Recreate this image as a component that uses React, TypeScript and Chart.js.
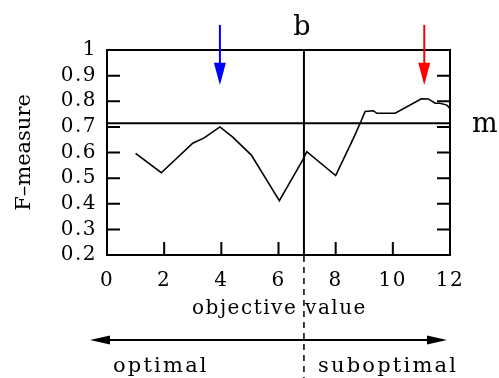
import React, { useEffect, useRef } from "react";
import { Chart, registerables } from "chart.js";

Chart.register(...registerables);

// F-measure curve (objective value, F-measure)
const curveX = [1, 1.9, 3.0, 3.4, 3.95, 4.4, 5.05, 6.03, 6.85, 6.99, 8.0, 8.62, 8.88, 9.03, 9.32, 9.44, 10.08, 11.0, 11.24, 11.48, 11.65, 11.89, 12.0];
const curveY = [0.597, 0.521, 0.636, 0.657, 0.7, 0.66, 0.59, 0.412, 0.571, 0.603, 0.51, 0.655, 0.72, 0.76, 0.763, 0.753, 0.753, 0.81, 0.809, 0.792, 0.792, 0.785, 0.772];

const xTicks = [0, 2, 4, 6, 8, 10, 12];
const yTicks = [0.2, 0.3, 0.4, 0.5, 0.6, 0.7, 0.8, 0.9, 1];

const bValue = 6.89; // vertical reference line "b"
const mValue = 0.714; // horizontal reference line "m"

const arrowXs = [3.95, 11.1];
const arrowColors = ["#0000ff", "#ff0000"];

const FONT = "'DejaVu Serif', 'Liberation Serif', serif";

export default function App() {
  const ref = useRef<HTMLCanvasElement>(null);

  useEffect(() => {
    if (!ref.current) return;
    const points = curveX.map((x, i) => ({ x, y: curveY[i] }));

    const overlay = {
      id: "overlay",
      beforeUpdate(chart: any) {
        (chart.ctx as any).letterSpacing = "1.5px";
      },
      beforeDraw(chart: any) {
        (chart.ctx as any).letterSpacing = "1.5px";
      },
      afterDraw(chart: any) {
        const ctx = chart.ctx as CanvasRenderingContext2D;
        const xs = chart.scales.x;
        const ys = chart.scales.y;
        const { left, right, top, bottom } = chart.chartArea;
        ctx.save();
        ctx.strokeStyle = "#000";
        ctx.fillStyle = "#000";
        // frame
        ctx.lineWidth = 2;
        ctx.strokeRect(left, top, right - left, bottom - top);
        // inward ticks
        ctx.lineWidth = 2;
        ctx.beginPath();
        yTicks.forEach((v) => {
          if (v <= 0.2 || v >= 1) return;
          const py = ys.getPixelForValue(v);
          ctx.moveTo(left, py);
          ctx.lineTo(left + 13, py);
          ctx.moveTo(right, py);
          ctx.lineTo(right - 13, py);
        });
        xTicks.forEach((v) => {
          if (v <= 0 || v >= 12) return;
          const px = xs.getPixelForValue(v);
          ctx.moveTo(px, bottom);
          ctx.lineTo(px, bottom - 13);
        });
        ctx.stroke();

        // dashed extension of b line
        const bx = xs.getPixelForValue(bValue);
        ctx.lineWidth = 1.5;
        ctx.setLineDash([6, 5]);
        ctx.beginPath();
        ctx.moveTo(bx, bottom + 1);
        ctx.lineTo(bx, chart.height);
        ctx.stroke();
        ctx.setLineDash([]);

        // coloured arrows
        arrowXs.forEach((v, i) => {
          const px = xs.getPixelForValue(v);
          const y0 = ys.getPixelForValue(1.098);
          const yb = ys.getPixelForValue(0.95);
          const yt = ys.getPixelForValue(0.863);
          ctx.strokeStyle = arrowColors[i];
          ctx.fillStyle = arrowColors[i];
          ctx.lineWidth = 2;
          ctx.beginPath();
          ctx.moveTo(px, y0);
          ctx.lineTo(px, yt - 4);
          ctx.stroke();
          ctx.beginPath();
          ctx.moveTo(px - 6, yb);
          ctx.lineTo(px + 6, yb);
          ctx.lineTo(px, yt);
          ctx.closePath();
          ctx.fill();
        });

        // bottom double arrow
        ctx.strokeStyle = "#000";
        ctx.fillStyle = "#000";
        const ay = 340;
        const ax0 = left - 17;
        const ax1 = right - 3;
        ctx.lineWidth = 2;
        ctx.beginPath();
        ctx.moveTo(ax0 + 10, ay);
        ctx.lineTo(ax1 - 10, ay);
        ctx.stroke();
        ctx.beginPath();
        ctx.moveTo(ax0, ay);
        ctx.lineTo(ax0 + 20, ay - 4.5);
        ctx.lineTo(ax0 + 20, ay + 4.5);
        ctx.closePath();
        ctx.fill();
        ctx.beginPath();
        ctx.moveTo(ax1, ay);
        ctx.lineTo(ax1 - 20, ay - 4.5);
        ctx.lineTo(ax1 - 20, ay + 4.5);
        ctx.closePath();
        ctx.fill();

        // texts
        ctx.textBaseline = "alphabetic";
        ctx.font = `20px ${FONT}`;
        (ctx as any).letterSpacing = "1.5px";
        ctx.textAlign = "center";
        ctx.fillText("objective value", (left + right) / 2 + 1, 314);
        ctx.font = `21px ${FONT}`;
        (ctx as any).letterSpacing = "2.2px";
        ctx.textAlign = "left";
        ctx.fillText("optimal", 113, 372);
        ctx.fillText("suboptimal", 318, 372);

        (ctx as any).letterSpacing = "0px";
        ctx.font = `27px ${FONT}`;
        ctx.textAlign = "center";
        ctx.fillText("b", bx - 2, 35);
        ctx.textAlign = "left";
        ctx.fillText("m", 472, 132);

        ctx.font = `21px ${FONT}`;
        ctx.translate(30, (top + bottom) / 2);
        ctx.rotate(-Math.PI / 2);
        ctx.textAlign = "center";
        ctx.fillText("F\u2013measure", 0, 0);
        ctx.restore();
      },
    };

    const chart = new Chart(ref.current, {
      type: "line",
      data: {
        datasets: [
          {
            data: points,
            borderColor: "#000",
            borderWidth: 1.6,
            pointRadius: 0,
            tension: 0,
          },
          {
            data: [
              { x: 0, y: mValue },
              { x: 12, y: mValue },
            ],
            borderColor: "#000",
            borderWidth: 2,
            pointRadius: 0,
          },
          {
            data: [
              { x: bValue, y: 0.2 },
              { x: bValue, y: 1 },
            ],
            borderColor: "#000",
            borderWidth: 2,
            pointRadius: 0,
          },
        ],
      },
      options: {
        animation: false,
        responsive: false,
        events: [],
        layout: { padding: { left: 0, top: 50, right: 49, bottom: 0 } },
        plugins: { legend: { display: false }, tooltip: { enabled: false } },
        scales: {
          x: {
            type: "linear",
            min: 0,
            max: 12,
            afterFit(scale: any) {
              scale.height = 123;
            },
            afterBuildTicks(scale: any) {
              scale.ticks = xTicks.map((v) => ({ value: v }));
            },
            ticks: {
              color: "#000",
              font: { family: FONT, size: 20 },
              padding: 14,
              maxRotation: 0,
              autoSkip: false,
            },
            grid: { display: false, drawTicks: false },
            border: { display: false },
          },
          y: {
            min: 0.2,
            max: 1,
            afterFit(scale: any) {
              scale.width = 107;
            },
            afterBuildTicks(scale: any) {
              scale.ticks = yTicks.map((v) => ({ value: v }));
            },
            ticks: {
              color: "#000",
              font: { family: FONT, size: 20 },
              padding: 10,
              autoSkip: false,
              callback: (v: any) => (Number(v) >= 1 ? "1" : Number(v).toFixed(1)),
            },
            grid: { display: false, drawTicks: false },
            border: { display: false },
          },
        },
      },
      plugins: [overlay],
    });
    return () => chart.destroy();
  }, []);

  return (
    <div style={{ position: "fixed", left: 0, top: 0, width: 499, height: 378, background: "#fff" }}>
      <canvas ref={ref} width={499} height={378} style={{ display: "block" }} />
    </div>
  );
}
